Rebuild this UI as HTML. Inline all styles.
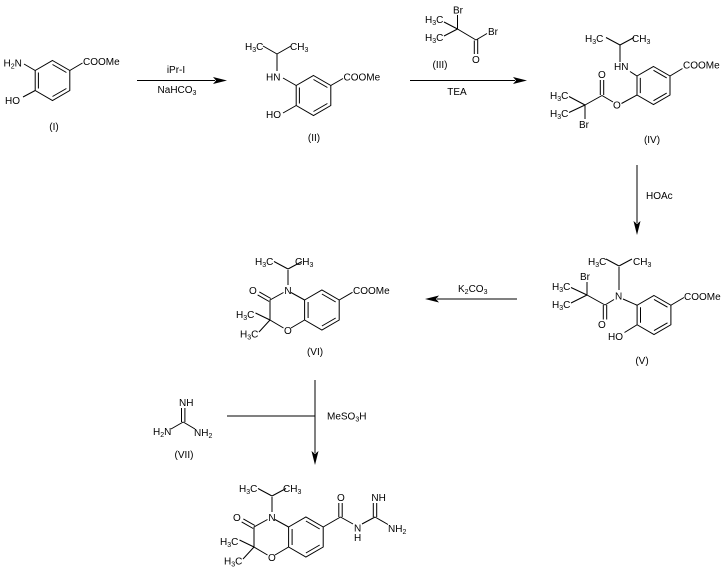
<!DOCTYPE html>
<html><head><meta charset="utf-8"><style>
html,body{margin:0;padding:0;background:#fff;}
svg{display:block;}
text{font-family:"Liberation Sans",Arial,sans-serif;font-size:10px;fill:#000;}
</style></head><body>
<svg width="728" height="575" viewBox="0 0 728 575" xmlns="http://www.w3.org/2000/svg">
<rect width="728" height="575" fill="#fff"/>
<g stroke="#000" stroke-width="1" fill="none">
<!-- Structure I -->
<path d="M52.5,60.5 L69.8,70.5 L69.8,90.5 L52.5,100.5 L35.2,90.5 L35.2,70.5 Z"/>
<path d="M52.5,64.5 L66.4,72.5 M38.4,72.5 L38.4,88.5 M52.5,96.5 L66.4,88.5"/>
<path d="M35.2,70.5 L24,64 M69.8,70.5 L82.5,63 M35.2,90.5 L23,97"/>
<!-- Arrow 1 -->
<path d="M137,80.5 L215,80.5"/>
<!-- Structure II -->
<path d="M313.5,75.5 L330.8,85.5 L330.8,105.5 L313.5,115.5 L296.2,105.5 L296.2,85.5 Z"/>
<path d="M313.5,79.5 L327.4,87.5 M299.4,87.5 L299.4,103.5 M313.5,111.5 L327.4,103.5"/>
<path d="M296.2,85.5 L283,78 M277,71 L277,54 M277,54 L263,46 M277,54 L291,46 M330.8,85.5 L343,78.5 M296.2,105.5 L283,113"/>
<!-- Structure III -->
<path d="M457.5,29 L457.5,15 M457.5,29 L444,22 M457.5,29 L444,36 M457.5,29 L476,40 M476,40 L487,33.5 M474.3,40.5 L474.3,54 M477.7,39.5 L477.7,54"/>
<!-- Arrow 2 -->
<path d="M410,80.5 L515,80.5"/>
<!-- Structure IV -->
<path d="M653.5,66.5 L670,76 L670,95 L653.5,104.5 L637,95 L637,76 Z"/>
<path d="M653.5,70.3 L666.7,77.9 M640.3,77.9 L640.3,93.1 M653.5,100.7 L666.7,93.1"/>
<path d="M637,76 L630,71.5 M620,62 L620,45 M620,45 L606,37.5 M620,45 L634,37.5 M670,76 L682.5,68.5 M637,95 L621.5,103.5 M613,102 L602,95.5 M600.3,95 L600.3,80 M603.7,95 L603.7,80 M602,95.5 L585,105 M585,105 L569,96.5 M585,105 L569,112.5 M585,105 L585,119"/>
<!-- Arrow 3 -->
<path d="M637,165 L637,223"/>
<!-- Structure V -->
<path d="M654,295.5 L670.9,305.25 L670.9,324.75 L654,334.5 L637.1,324.75 L637.1,305.25 Z"/>
<path d="M654,299.4 L667.5,307.2 M640.5,307.2 L640.5,322.8 M654,330.6 L667.5,322.8"/>
<path d="M623,299 L637.1,305.25 M619,267 L619,290 M619,266 L606,259 M619,266 L632,259 M605,305 L614,299.5 M603.3,305 L603.3,319.5 M606.7,305 L606.7,319.5 M587,295 L605,305 M587,295 L587,282 M587,295 L571,287.5 M587,295 L571,303 M670.9,305.25 L684,297.5 M637.1,324.75 L624.5,332.5"/>
<!-- Arrow 4 -->
<path d="M517,299 L437,299"/>
<!-- Structure VI -->
<path d="M288,269 L274,261.5 M288,269 L302,261.5 M288,270 L288,285"/>
<path d="M283.5,292.5 L270,300 L270,320 L283.5,328 M291,328 L304.6,320 M291,292.5 L304.6,300"/>
<path d="M270.85,298.5 L259.35,291.9 M269.15,301.5 L257.65,294.9"/>
<path d="M270,320 L255.5,313 M270,320 L259,332"/>
<path d="M304.6,300 L321.9,290 L339.2,300 L339.2,320 L321.9,330 L304.6,320 Z"/>
<path d="M321.9,294 L335.7,302 M308.1,302 L308.1,318 M321.9,326 L335.7,318"/>
<path d="M339.2,300 L352.5,292.3"/>
<!-- Vertical arrow and horizontal line -->
<path d="M315,380 L315,453 M227,416 L315,416"/>
<!-- Guanidine VII -->
<path d="M181.5,408 L181.5,422 M184.9,408 L184.9,422 M183.2,422 L171,429 M183.2,422 L195,429"/>
<!-- Final product -->
<path d="M272,496 L258,488.5 M272,496 L286,488.5 M272,497 L272,512"/>
<path d="M267.5,519.5 L254,527 L254,547 L267.5,555 M275,555 L288.6,547 M275,519.5 L288.6,527"/>
<path d="M254.85,525.5 L243.35,518.9 M253.15,528.5 L241.65,521.9"/>
<path d="M254,547 L239.5,540 M254,547 L243,559"/>
<path d="M288.6,527 L305.9,517 L323.2,527 L323.2,547 L305.9,557 L288.6,547 Z"/>
<path d="M305.9,521 L319.7,529 M292.1,529 L292.1,545 M305.9,553 L319.7,545"/>
<path d="M323.2,527 L340.5,517 M338.8,517 L338.8,503 M342.2,517 L342.2,503 M340.5,517 L353,524 M362,524 L375,517 M373.3,517 L373.3,503 M376.7,517 L376.7,503 M375,517 L388,524.5"/>
</g>
<!-- Arrowheads -->
<g fill="#000" stroke="none">
<polygon points="227,80.5 213,77 216,80.5 213,84"/>
<polygon points="527,80.5 513,77 516,80.5 513,84"/>
<polygon points="637,235 633.5,221 637,224 640.5,221"/>
<polygon points="425,299 439,295.5 436,299 439,302.5"/>
<polygon points="315,465 311.5,451 315,454 318.5,451"/>
</g>
<!-- Texts -->
<g>
<!-- I -->
<text x="3.5" y="66.5">H<tspan dy="2" font-size="7">2</tspan><tspan dy="-2">N</tspan></text>
<text x="83" y="65">COOMe</text>
<text x="5" y="104">HO</text>
<text x="54" y="130" text-anchor="middle">(I)</text>
<!-- arrow 1 labels -->
<text x="176" y="73" text-anchor="middle">iPr-I</text>
<text x="177" y="93" text-anchor="middle">NaHCO<tspan dy="2" font-size="7">3</tspan></text>
<!-- II -->
<text x="245" y="50">H<tspan dy="2" font-size="7">3</tspan><tspan dy="-2">C</tspan></text>
<text x="290" y="50">CH<tspan dy="2" font-size="7">3</tspan></text>
<text x="266" y="80.5">HN</text>
<text x="343.5" y="80.5">COOMe</text>
<text x="266" y="118">HO</text>
<text x="314" y="141" text-anchor="middle">(II)</text>
<!-- III -->
<text x="453" y="13.5">Br</text>
<text x="425" y="23">H<tspan dy="2" font-size="7">3</tspan><tspan dy="-2">C</tspan></text>
<text x="425" y="41">H<tspan dy="2" font-size="7">3</tspan><tspan dy="-2">C</tspan></text>
<text x="488" y="35">Br</text>
<text x="472" y="63">O</text>
<text x="440" y="68" text-anchor="middle">(III)</text>
<text x="457" y="95" text-anchor="middle">TEA</text>
<!-- IV -->
<text x="585" y="42">H<tspan dy="2" font-size="7">3</tspan><tspan dy="-2">C</tspan></text>
<text x="632" y="42">CH<tspan dy="2" font-size="7">3</tspan></text>
<text x="614" y="70">HN</text>
<text x="683" y="68.5">COOMe</text>
<text x="613" y="108.5">O</text>
<text x="598" y="78">O</text>
<text x="550" y="99">H<tspan dy="2" font-size="7">3</tspan><tspan dy="-2">C</tspan></text>
<text x="550" y="117">H<tspan dy="2" font-size="7">3</tspan><tspan dy="-2">C</tspan></text>
<text x="579" y="128">Br</text>
<text x="652" y="143" text-anchor="middle">(IV)</text>
<text x="646" y="199">HOAc</text>
<!-- V -->
<text x="588" y="265">H<tspan dy="2" font-size="7">3</tspan><tspan dy="-2">C</tspan></text>
<text x="633" y="265">CH<tspan dy="2" font-size="7">3</tspan></text>
<text x="615" y="299.5">N</text>
<text x="580" y="280">Br</text>
<text x="552" y="290">H<tspan dy="2" font-size="7">3</tspan><tspan dy="-2">C</tspan></text>
<text x="552" y="308">H<tspan dy="2" font-size="7">3</tspan><tspan dy="-2">C</tspan></text>
<text x="598" y="328">O</text>
<text x="684" y="300">COOMe</text>
<text x="608" y="340">HO</text>
<text x="642" y="364" text-anchor="middle">(V)</text>
<text x="458" y="292">K<tspan dy="2" font-size="7">2</tspan><tspan dy="-2">CO</tspan><tspan dy="2" font-size="7">3</tspan></text>
<!-- VI -->
<text x="255" y="265">H<tspan dy="2" font-size="7">3</tspan><tspan dy="-2">C</tspan></text>
<text x="295" y="265">CH<tspan dy="2" font-size="7">3</tspan></text>
<text x="284.4" y="294">N</text>
<text x="249" y="294">O</text>
<text x="236" y="318">H<tspan dy="2" font-size="7">3</tspan><tspan dy="-2">C</tspan></text>
<text x="240" y="337.5">H<tspan dy="2" font-size="7">3</tspan><tspan dy="-2">C</tspan></text>
<text x="284" y="334">O</text>
<text x="353" y="294">COOMe</text>
<text x="315" y="355" text-anchor="middle">(VI)</text>
<!-- VII -->
<text x="179" y="406">NH</text>
<text x="153" y="435">H<tspan dy="2" font-size="7">2</tspan><tspan dy="-2">N</tspan></text>
<text x="194" y="436">NH<tspan dy="2" font-size="7">2</tspan></text>
<text x="184" y="458" text-anchor="middle">(VII)</text>
<text x="327" y="419.5">MeSO<tspan dy="2" font-size="7">3</tspan><tspan dy="-2">H</tspan></text>
<!-- Final -->
<text x="239" y="492">H<tspan dy="2" font-size="7">3</tspan><tspan dy="-2">C</tspan></text>
<text x="283" y="492">CH<tspan dy="2" font-size="7">3</tspan></text>
<text x="268.4" y="521">N</text>
<text x="233" y="521">O</text>
<text x="220" y="545">H<tspan dy="2" font-size="7">3</tspan><tspan dy="-2">C</tspan></text>
<text x="224" y="564.5">H<tspan dy="2" font-size="7">3</tspan><tspan dy="-2">C</tspan></text>
<text x="268" y="561">O</text>
<text x="337" y="501">O</text>
<text x="354" y="531.5">N</text>
<text x="354" y="541">H</text>
<text x="371.4" y="501">NH</text>
<text x="388" y="532">NH<tspan dy="2" font-size="7">2</tspan></text>
</g>
</svg>
</body></html>
